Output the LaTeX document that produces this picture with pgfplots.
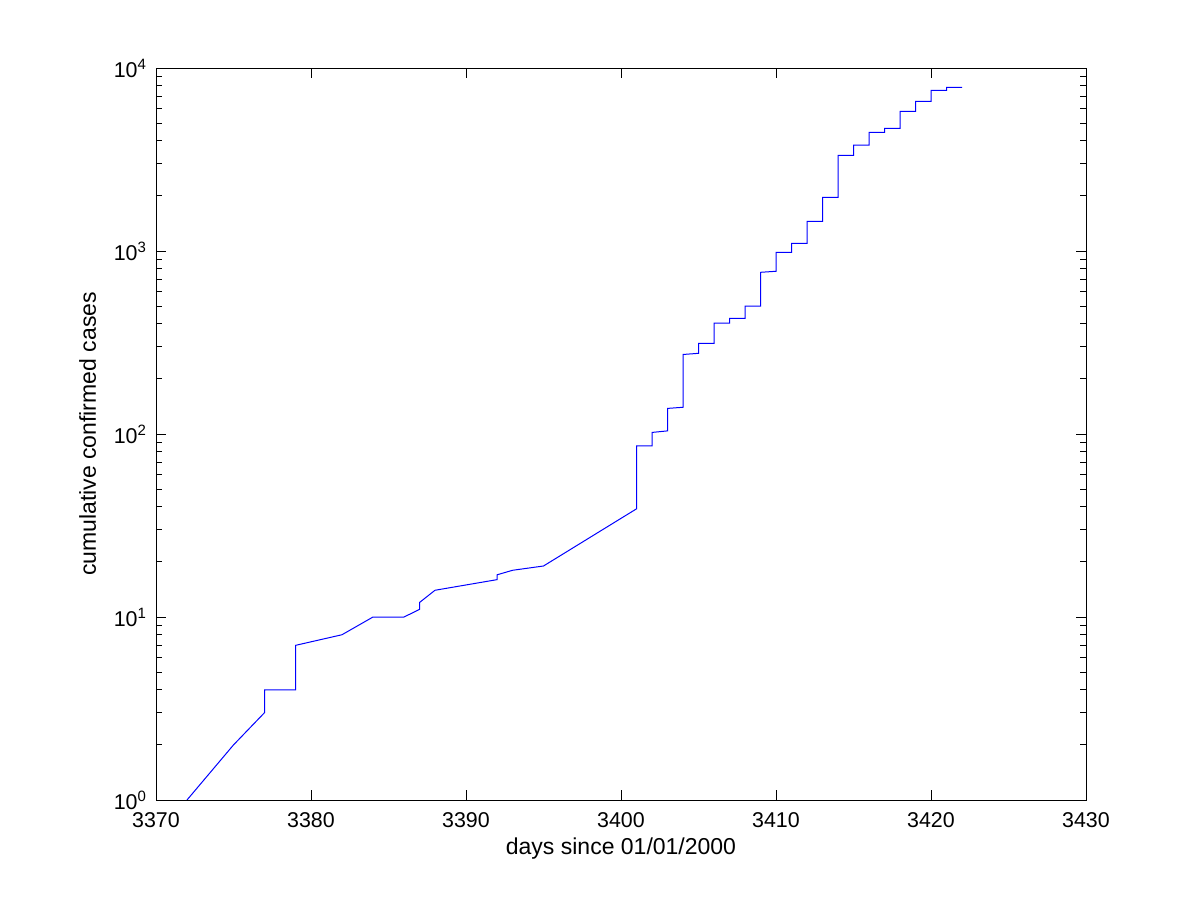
\documentclass[border=0pt]{standalone}
\usepackage{fontspec}
\setmainfont{Liberation Sans}
\usepackage{pgfplots}
\pgfplotsset{compat=1.18}
\begin{document}
\begin{tikzpicture}
\useasboundingbox (0,0) rectangle (600bp,450bp);
\begin{axis}[
  at={(78bp,50bp)}, anchor=south west,
  width=465bp, height=366bp, scale only axis,
  ymode=log,
  xmin=3370, xmax=3430, ymin=1, ymax=10000,
  xtick={3370,3380,...,3430},
  ytick={1,10,100,1000,10000},
  yticklabels={10\textsuperscript{0},10\textsuperscript{1},10\textsuperscript{2},10\textsuperscript{3},10\textsuperscript{4}},
  /pgf/number format/assume math mode=true,
  /pgf/number format/1000 sep={},
  tick align=inside,
  major tick length=5bp,
  minor tick length=2.8bp,
  tick style={black, line width=0.5bp},
  axis line style={line width=0.5bp},
  ticklabel style={font=\fontsize{10.7bp}{12bp}\selectfont},
  xticklabel style={yshift=-3bp},
  yticklabel style={xshift=-1bp},
  label style={font=\fontsize{11.5bp}{13bp}\selectfont},
  xlabel={days since 01/01/2000},
  ylabel={cumulative confirmed cases},
  xlabel style={yshift=2bp},
  ylabel style={yshift=2bp},
]
\addplot[blue, line width=0.5bp] coordinates {
(3372,1) (3375,2) (3377,3) (3377,4) (3379,4) (3379,7) (3382,8) (3384,10)
(3386,10) (3387,11) (3387,12) (3388,14) (3392,16) (3392,17) (3393,18)
(3395,19) (3401,39) (3401,86) (3402,86) (3402,102) (3403,104) (3403,138)
(3404,140) (3404,272) (3405,276) (3405,313) (3406,313) (3406,404)
(3407,404) (3407,429) (3408,429) (3408,500) (3409,500) (3409,765)
(3410,775) (3410,984) (3411,984) (3411,1102) (3412,1102) (3412,1452)
(3413,1452) (3413,1965) (3414,1965) (3414,3334) (3415,3334) (3415,3795)
(3416,3795) (3416,4455) (3417,4455) (3417,4680) (3418,4680) (3418,5800)
(3419,5800) (3419,6580) (3420,6580) (3420,7550) (3421,7550) (3421,7830)
(3422,7830)
};
\end{axis}
\end{tikzpicture}
\end{document}
